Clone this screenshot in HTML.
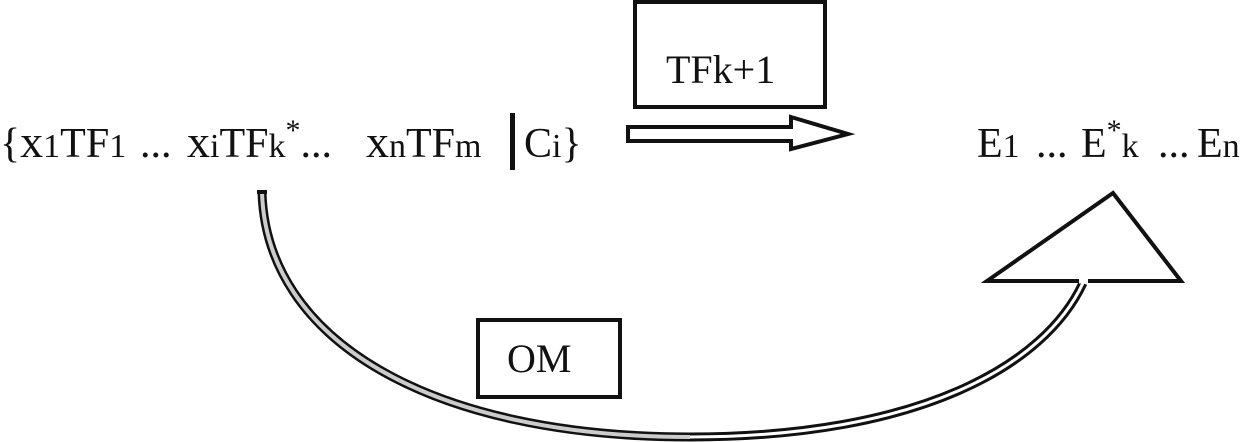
<!DOCTYPE html>
<html><head><meta charset="utf-8"><style>
html,body{margin:0;padding:0;background:#fff;}
svg{display:block;}
text{font-family:"Liberation Serif","DejaVu Serif","Times New Roman",serif;fill:#111;}
</style></head><body>
<svg width="1252" height="442" viewBox="0 0 1252 442" xmlns="http://www.w3.org/2000/svg" font-family="Liberation Serif, DejaVu Serif, serif">
<text y="157" font-size="42" font-family="Liberation Serif, serif">
<tspan x="0">{</tspan><tspan font-size="46">x</tspan><tspan font-size="34">1</tspan><tspan>TF</tspan><tspan font-size="34">1</tspan><tspan x="140">...</tspan><tspan x="187" font-size="46">x</tspan><tspan font-size="34">i</tspan><tspan>TF</tspan><tspan font-size="34">k</tspan><tspan dy="-17" font-size="30">*</tspan><tspan dy="17">...</tspan><tspan x="366" font-size="46">x</tspan><tspan font-size="34">n</tspan><tspan>TF</tspan><tspan font-size="34">m</tspan><tspan x="524">C</tspan><tspan font-size="34">i</tspan><tspan>}</tspan>
</text>
<rect x="510" y="113" width="5" height="57" fill="#111"/>
<text y="157" font-size="42" font-family="Liberation Serif, serif">
<tspan x="977">E</tspan><tspan font-size="34">1</tspan><tspan x="1036">...</tspan><tspan x="1081">E</tspan><tspan dy="-17" font-size="30">*</tspan><tspan dy="17" font-size="34">k</tspan><tspan x="1158">...</tspan><tspan x="1197">E</tspan><tspan font-size="34">n</tspan>
</text>
<rect x="635" y="2" width="190" height="105" fill="none" stroke="#111" stroke-width="4"/>
<text x="666" y="83" font-size="40" font-family="Liberation Serif, serif">TFk+1</text>
<polygon points="628,127 791,127 791,117 848,134 791,149 791,141 628,141" fill="#fff" stroke="#111" stroke-width="4" stroke-linejoin="miter"/>
<path d="M262 192 C266 340 430 437 690 437" fill="none" stroke="#111" stroke-width="9"/>
<path d="M262 192 C266 340 430 437 690 437" fill="none" stroke="#ccc" stroke-width="4"/>
<path d="M690 437 C920 437 1045 365 1083 283" fill="none" stroke="#111" stroke-width="9"/>
<path d="M690 437 C920 437 1045 365 1083 283" fill="none" stroke="#fff" stroke-width="3"/>
<rect x="257" y="190" width="10" height="4" fill="#111"/>
<polygon points="1113,193 1181,281 987,281" fill="#fff" stroke="#111" stroke-width="4"/>
<line x1="1079" y1="281" x2="1088" y2="281" stroke="#fff" stroke-width="5"/>
<rect x="478" y="320" width="142" height="77" fill="#fff" stroke="#111" stroke-width="4"/>
<text x="507" y="372" font-size="40" font-family="Liberation Serif, serif">OM</text>
</svg>
</body></html>
